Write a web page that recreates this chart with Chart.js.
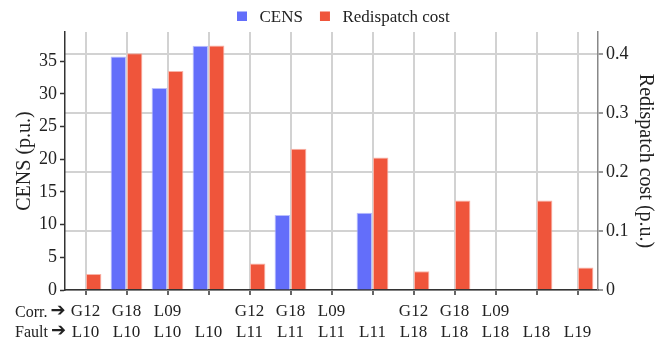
<!DOCTYPE html>
<html>
<head>
<meta charset="utf-8">
<script src="https://cdn.jsdelivr.net/npm/chart.js@4/dist/chart.umd.min.js"></script>
<style>
  html, body { margin: 0; padding: 0; background: #fff; }
  canvas { display: block; }
</style>
</head>
<body>
<canvas id="chart" width="670" height="343" style="width:670px;height:343px"></canvas>
<script>
// Corrective action (first label row) and faulted element (second label row)
const corrected = ['G12', 'G18', 'L09', '', 'G12', 'G18', 'L09', '', 'G12', 'G18', 'L09', '', ''];
const faulted   = ['L10', 'L10', 'L10', 'L10', 'L11', 'L11', 'L11', 'L11', 'L18', 'L18', 'L18', 'L18', 'L19'];

// Series values
const censValues       = [0, 35.7, 30.9, 37.35, 0, 11.47, 0, 11.8, 0, 0, 0, 0, 0];
const redispatchValues = [0.027, 0.402, 0.372, 0.415, 0.045, 0.240, 0, 0.225, 0.032, 0.152, 0, 0.152, 0.038];

// Axis ticks and ranges
const censTicks = [0, 5, 10, 15, 20, 25, 30, 35];
const costTicks = [0, 0.1, 0.2, 0.3, 0.4];
const censMax = 39.45;
const costMax = 0.438;

const rowNames = ['Corr.', 'Fault'];

const SERIF = '"Liberation Serif", "Times New Roman", serif';
const BLUE = '#636EFA';
const RED = '#EF553B';

// Legend drawn along the top
const topLegend = {
  id: 'topLegend',
  afterDraw(chart) {
    const ctx = chart.ctx;
    ctx.save();
    ctx.font = '17px ' + SERIF;
    ctx.textBaseline = 'alphabetic';
    ctx.textAlign = 'left';
    let x = 237;
    chart.data.datasets.forEach(ds => {
      ctx.fillStyle = ds.backgroundColor;
      ctx.fillRect(x, 11.5, 10, 9.5);
      ctx.fillStyle = '#222';
      ctx.fillText(ds.label, x + 22.5, 22);
      x += 22.5 + ctx.measureText(ds.label).width + 17;
    });
    ctx.restore();
  }
};

// Row captions with arrows in front of the two category label rows
const rowCaptions = {
  id: 'rowCaptions',
  afterDraw(chart) {
    const ctx = chart.ctx;
    const xs = chart.scales.x;
    const rowY = [xs.top + 22.5, xs.top + 42.5];
    ctx.save();
    ctx.textBaseline = 'middle';
    ctx.textAlign = 'left';
    rowNames.forEach((name, i) => {
      ctx.font = '16px ' + SERIF;
      ctx.fillStyle = '#222';
      ctx.fillText(name, 15, rowY[i]);
      const w = ctx.measureText(name).width;
      ctx.font = 'bold 18px "DejaVu Sans"';
      ctx.fillText('\u2794', 15 + w + 3, rowY[i] - 1);
    });
    ctx.restore();
  }
};

new Chart(document.getElementById('chart'), {
  type: 'bar',
  data: {
    labels: corrected.map((c, i) => [c, faulted[i]]),
    datasets: [
      {
        label: 'CENS',
        data: censValues,
        yAxisID: 'y',
        backgroundColor: BLUE,
        borderColor: '#b9befd',
        borderWidth: 1,
        barPercentage: 0.94,
        categoryPercentage: 0.8
      },
      {
        label: 'Redispatch cost',
        data: redispatchValues,
        yAxisID: 'y1',
        backgroundColor: RED,
        borderColor: '#f8b3a7',
        borderWidth: 1,
        barPercentage: 0.94,
        categoryPercentage: 0.8
      }
    ]
  },
  options: {
    responsive: false,
    animation: false,
    devicePixelRatio: 1,
    layout: { padding: { top: 32, left: 0, right: 0, bottom: 0 } },
    plugins: {
      legend: { display: false },
      tooltip: { enabled: false }
    },
    scales: {
      x: {
        type: 'category',
        offset: true,
        afterFit(s) { s.height = 53; },
        grid: {
          offset: false,
          color: '#d2d2d2',
          lineWidth: 2,
          drawTicks: true,
          tickLength: 5,
          tickColor: '#333',
          tickWidth: 1.5
        },
        border: { display: true, color: '#333', width: 1.5 },
        ticks: {
          autoSkip: false,
          maxRotation: 0,
          minRotation: 0,
          padding: 7,
          color: '#222',
          font: { family: SERIF, size: 17, lineHeight: 1.18 }
        }
      },
      y: {
        type: 'linear',
        position: 'left',
        min: 0,
        max: censMax,
        afterFit(s) { s.width = 65; },
        afterBuildTicks(s) { s.ticks = censTicks.map(v => ({ value: v })); },
        grid: {
          drawOnChartArea: false,
          drawTicks: true,
          tickLength: 5,
          tickColor: '#333',
          tickWidth: 1.5
        },
        border: { display: true, color: '#333', width: 1.5 },
        ticks: {
          padding: 3,
          color: '#222',
          font: { family: SERIF, size: 18 },
          callback: v => String(v)
        },
        title: {
          display: true,
          text: 'CENS (p.u.)',
          color: '#222',
          font: { family: SERIF, size: 20 },
          padding: { top: 13, bottom: 0 }
        }
      },
      y1: {
        type: 'linear',
        position: 'right',
        min: 0,
        max: costMax,
        afterFit(s) { s.width = 72; },
        afterBuildTicks(s) { s.ticks = costTicks.map(v => ({ value: v })); },
        grid: {
          drawOnChartArea: true,
          color: '#d2d2d2',
          lineWidth: 2,
          drawTicks: true,
          tickLength: 5,
          tickColor: '#777',
          tickWidth: 1.5
        },
        border: { display: true, color: '#888', width: 1.5 },
        ticks: {
          padding: 3,
          color: '#222',
          font: { family: SERIF, size: 18 },
          callback: v => (v === 0 ? '0' : v.toFixed(1))
        },
        title: {
          display: true,
          text: 'Redispatch cost (p.u.)',
          color: '#222',
          font: { family: SERIF, size: 20 },
          padding: { top: 13, bottom: 0 }
        }
      }
    }
  },
  plugins: [topLegend, rowCaptions]
});
</script>
</body>
</html>
